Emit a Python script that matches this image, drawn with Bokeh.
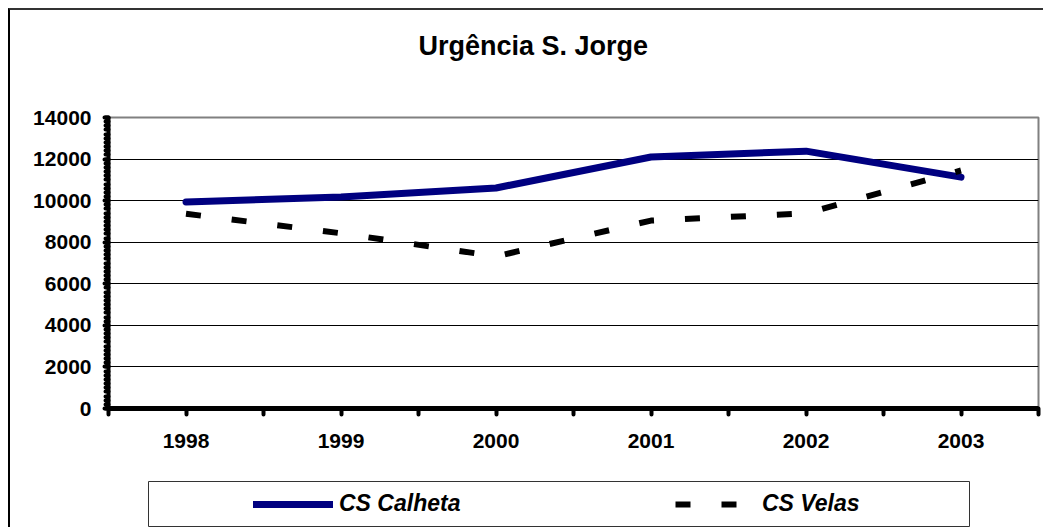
from bokeh.plotting import figure
from bokeh.models import Range1d, FixedTicker, Legend, LegendItem, Label
from bokeh.embed import file_html
from bokeh.resources import INLINE

# ---- data ----
years = ["1998", "1999", "2000", "2001", "2002", "2003"]
calheta = [9940, 10180, 10610, 12100, 12380, 11130]
velas = [9370, 8430, 7320, 9040, 9390, 11450]
y_ticks = [0, 2000, 4000, 6000, 8000, 10000, 12000, 14000]
title_text = "Urgência S. Jorge"
series_names = ["CS Calheta", "CS Velas"]

xs = list(range(len(years)))
FONT = "Liberation Sans"
CALHETA_STYLE = dict(line_color="#000080", line_width=7, line_cap="round", line_join="round")
VELAS_STYLE = dict(line_color="black", line_width=6, line_dash="15 31", line_cap="butt")


def strip(height, **kw):
    f = figure(width=1035, height=height, output_backend="svg", toolbar_location=None,
               x_range=Range1d(0, 1), y_range=Range1d(0, 1),
               x_axis_type=None, y_axis_type=None, title=None, **kw)
    f.grid.visible = False
    f.background_fill_color = "white"
    f.border_fill_color = "white"
    return f


# ---- title strip ----
tf = strip(91, min_border=0)
tf.outline_line_alpha = 0
tf.styles = {"margin-left": "8px", "margin-top": "8px",
             "border-top": "2px solid #333333", "border-left": "2px solid #000000"}
tf.add_layout(Label(x=0.505, y=0.615, text=title_text, text_align="center",
                    text_baseline="middle", text_font=FONT, text_font_style="bold",
                    text_font_size="27px", text_color="black"))

# ---- main chart ----
p = figure(width=1035, height=382, output_backend="svg", toolbar_location=None,
           title=None,
           x_range=Range1d(-0.5, len(years) - 0.5), y_range=Range1d(0, 14000),
           min_border_left=98, min_border_right=7, min_border_top=18,
           min_border_bottom=73)
p.styles = {"margin-left": "8px", "border-left": "2px solid #000000"}
p.background_fill_color = "white"
p.border_fill_color = "white"
p.outline_line_color = "#808080"
p.outline_line_width = 2

# x axis
xa = p.xaxis[0]
xa.ticker = FixedTicker(ticks=xs, minor_ticks=[i - 0.5 for i in range(len(years) + 1)])
xa.major_label_overrides = {i: y for i, y in enumerate(years)}
xa.axis_line_width = 5
xa.axis_line_color = "black"
xa.major_tick_line_width = 4
xa.major_tick_line_cap = "round"
xa.major_tick_out = 6
xa.major_tick_in = 0
xa.minor_tick_line_width = 4
xa.minor_tick_line_cap = "round"
xa.minor_tick_out = 6
xa.minor_tick_in = 0
xa.major_label_standoff = 19
xa.major_label_text_font = FONT
xa.major_label_text_font_style = "bold"
xa.major_label_text_font_size = "21px"
xa.major_label_text_color = "black"

# y axis
ya = p.yaxis[0]
ya.ticker = FixedTicker(ticks=y_ticks, minor_ticks=list(range(0, 14001, 200)))
ya.axis_line_width = 4
ya.axis_line_color = "black"
ya.major_tick_line_width = 4
ya.major_tick_line_cap = "round"
ya.major_tick_out = 4
ya.major_tick_in = 0
ya.minor_tick_line_width = 4
ya.minor_tick_line_cap = "round"
ya.minor_tick_out = 3
ya.minor_tick_in = 0
ya.major_label_standoff = 13
ya.major_label_text_font = FONT
ya.major_label_text_font_style = "bold"
ya.major_label_text_font_size = "21px"
ya.major_label_text_color = "black"

p.xgrid.visible = False
p.ygrid.ticker = FixedTicker(ticks=y_ticks[1:-1])
p.ygrid.grid_line_color = "black"
p.ygrid.grid_line_width = 1

p.line(xs, calheta, **CALHETA_STYLE)
p.line(xs, velas, **VELAS_STYLE)

# ---- legend strip (its frame is the legend box) ----
lg = strip(46, min_border_left=138, min_border_right=76, min_border_top=0,
           min_border_bottom=1)
lg.styles = {"margin-left": "8px", "border-left": "2px solid #000000"}
lg.outline_line_color = "#333333"
lg.outline_line_width = 1

# key renderers carry the same series but are hidden; only their legend keys show
k1 = lg.line(xs, calheta, visible=False, **CALHETA_STYLE)
k2 = lg.line(xs, velas, visible=False, **VELAS_STYLE)

common = dict(orientation="horizontal", padding=0, margin=0,
              border_line_alpha=0, background_fill_alpha=0,
              inactive_fill_alpha=0,
              label_text_font=FONT, label_text_font_style="bold italic",
              label_text_font_size="23px", label_text_color="black")
leg1 = Legend(items=[LegendItem(label=series_names[0], renderers=[k1])],
              location=(105, 9), glyph_width=80, label_standoff=6, **common)
leg2 = Legend(items=[LegendItem(label=series_names[1], renderers=[k2])],
              location=(527, 9), glyph_width=62, label_standoff=25, **common)
lg.add_layout(leg1, "center")
lg.add_layout(leg2, "center")

open("out.html", "w").write(file_html([tf, p, lg], INLINE))
